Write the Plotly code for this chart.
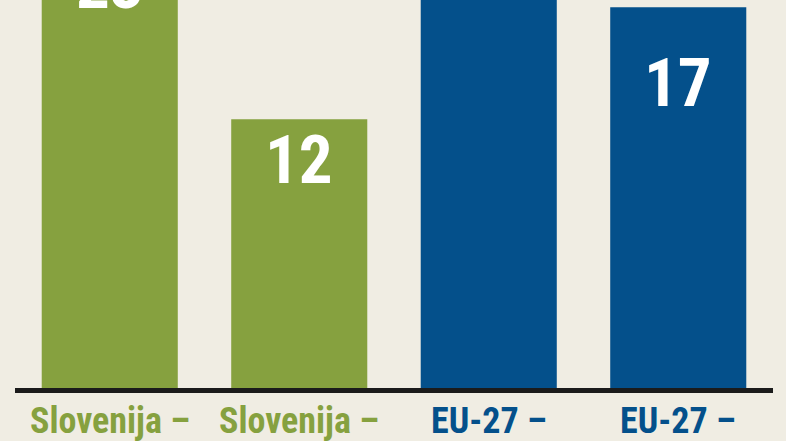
import plotly.graph_objects as go

categories = ["Slovenija –", "Slovenija – ", "EU-27 –", "EU-27 – "]
values = [23, 12, 22, 17]
value_labels = ["23", "12", "22", "17"]

# styling
GREEN = "#86a13f"
BLUE = "#04508b"
BG = "#f0ede3"
bar_colors = [GREEN, GREEN, BLUE, BLUE]
label_drop = [5.0, 1.8, 2.0, 3.4]  # how far below the bar top each value label sits (units)
FONT = ("'Roboto Condensed', 'Noto Sans Condensed', 'Open Sans Condensed', "
        "'Liberation Sans Narrow', 'DejaVu Sans Condensed', 'Roboto', sans-serif")

Y_MAX = 17.32

fig = go.Figure()
fig.add_trace(go.Bar(
    x=categories, y=values,
    marker=dict(color=bar_colors, line=dict(width=0)),
    hoverinfo="skip",
))

annotations = []
for c, v, t, d in zip(categories, values, value_labels, label_drop):
    annotations.append(dict(
        x=c, xref="x", y=(v - d) / Y_MAX, yref="paper",
        text=t, showarrow=False, xanchor="center", yanchor="middle",
        font=dict(family=FONT, size=67, color="white", weight="bold"),
    ))
for c, col in zip(categories, bar_colors):
    annotations.append(dict(
        x=c, xref="x", y=0, yref="paper",
        text=c.strip(), showarrow=False, xanchor="center", yanchor="top",
        yshift=-10,
        font=dict(family=FONT, size=36, color=col, weight="bold"),
    ))

fig.update_layout(
    width=786, height=441,
    margin=dict(l=15, r=13, t=0, b=53),
    paper_bgcolor=BG, plot_bgcolor=BG,
    bargap=0.282,
    showlegend=False,
    annotations=annotations,
    xaxis=dict(range=[-0.5, 3.5], showline=True, linecolor="#1b1b1b", linewidth=5,
               showticklabels=False, ticks="", showgrid=False, zeroline=False),
    yaxis=dict(range=[0, Y_MAX], visible=False, showgrid=False, zeroline=False),
    font=dict(family=FONT),
)

fig.write_html(
    "out.html",
    config={"displayModeBar": False},
    post_script="document.body.style.margin='0';document.body.style.padding='0';document.body.style.background='" + BG + "';",
)
